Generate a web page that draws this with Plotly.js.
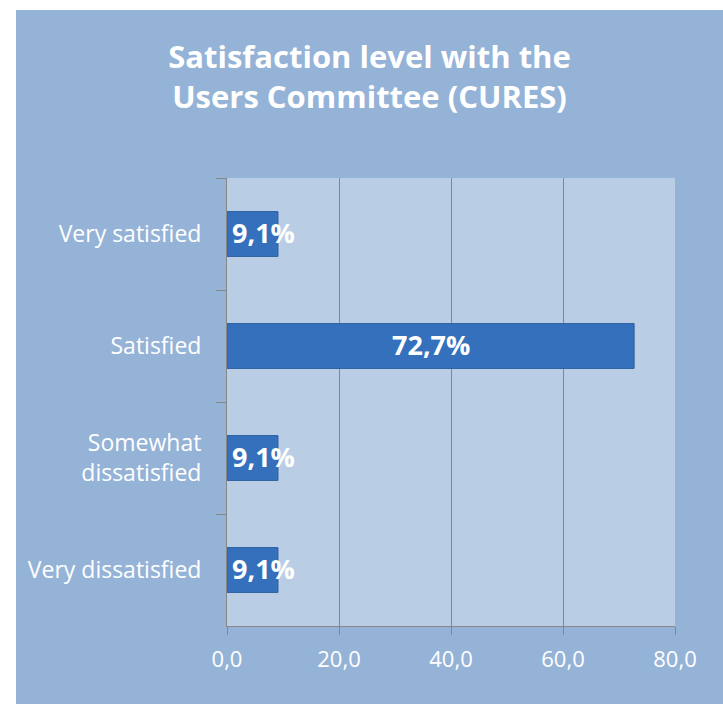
<!DOCTYPE html>
<html>
<head>
<meta charset="utf-8">
<script src="https://cdn.plot.ly/plotly-3.0.1.min.js"></script>
<style>
  html, body { margin: 0; padding: 0; background: #ffffff; width: 723px; height: 704px; overflow: hidden; }
  #chart { position: absolute; left: 16px; top: 10px; width: 707px; height: 694px; }
</style>
</head>
<body>
<div id="chart"></div>
<script>
const categories = ["Very satisfied", "Satisfied", "Somewhat<br>dissatisfied", "Very dissatisfied"];
const values = [9.1, 72.7, 9.1, 9.1];
const valueLabels = ["9,1%", "72,7%", "9,1%", "9,1%"];
const xTicks = [0, 20, 40, 60, 80];

const FONT = "'Open Sans', Lato, sans-serif";

const trace = {
  type: "bar",
  orientation: "h",
  y: categories,
  x: values,
  marker: { color: "#3470BC", line: { color: "#2C5E9F", width: 1 } },
  hoverinfo: "skip"
};

const annotations = values.map((v, i) => {
  const big = v > 20;
  return {
    x: big ? v / 2 : 0,
    y: categories[i],
    xref: "x", yref: "y",
    text: "<b>" + valueLabels[i] + "</b>",
    showarrow: false,
    xanchor: big ? "center" : "left",
    xshift: big ? 0 : 3,
    yshift: 2,
    font: { family: FONT, size: 27, color: "#ffffff" }
  };
});

const layout = {
  width: 707, height: 694,
  paper_bgcolor: "#95B3D7",
  plot_bgcolor: "#B9CDE5",
  separators: ",.",
  margin: { l: 211, r: 48, t: 168, b: 78 },
  title: {
    text: "<b>Satisfaction level with the<br>Users Committee (CURES)</b>",
    x: 0.5, xanchor: "center", xref: "container",
    y: 0.917, yanchor: "middle", yref: "container",
    font: { family: FONT, size: 31, color: "#ffffff" }
  },
  bargap: 0.6,
  showlegend: false,
  xaxis: {
    range: [0, 80],
    tickvals: xTicks,
    tickformat: ".1f",
    showgrid: true, gridcolor: "#878787", gridwidth: 1,
    zeroline: false,
    showline: true, linecolor: "#878787", linewidth: 1,
    ticks: "outside", ticklen: 8, tickcolor: "#878787",
    ticklabelstandoff: 6,
    tickfont: { family: FONT, size: 22, color: "#ffffff" },
    fixedrange: true
  },
  yaxis: {
    type: "category",
    categoryorder: "array",
    categoryarray: categories,
    autorange: "reversed",
    showgrid: false,
    zeroline: false,
    showline: true, linecolor: "#878787", linewidth: 1,
    ticks: "outside", ticklen: 10, tickcolor: "#878787",
    tickson: "boundaries",
    ticklabelstandoff: 20,
    tickfont: { family: FONT, size: 23, color: "#ffffff" },
    fixedrange: true
  },
  annotations: annotations
};

Plotly.newPlot("chart", [trace], layout, { displayModeBar: false, staticPlot: true });
</script>
</body>
</html>
